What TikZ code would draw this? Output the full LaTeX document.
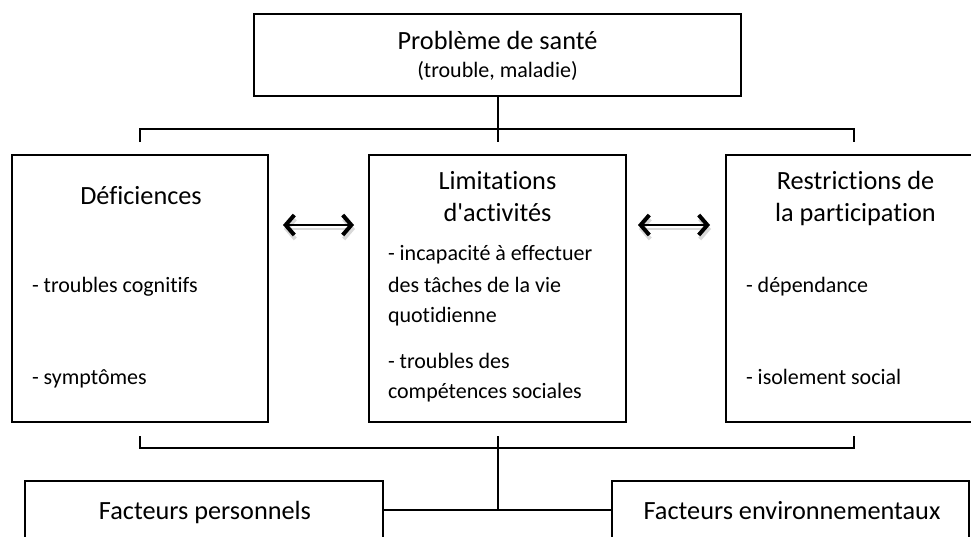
\documentclass[tikz,border=0pt]{standalone}
\usepackage{fontspec}
\setmainfont{Carlito}[Ligatures={TeXOff,CommonOff}]
\usetikzlibrary{arrows.meta,fit}

\tikzset{every picture/.style={line width=1.5pt}}
\tikzset{
  boite/.style={draw, inner sep=0pt},
  grand/.style={font=\fontsize{19.7}{23}\selectfont, inner sep=0.75pt},
  petit/.style={font=\fontsize{16.5}{22.5}\selectfont, inner sep=0.75pt},
  fleche/.style={{Straight Barb[length=6.5pt,width=15pt,line width=3pt]}-{Straight Barb[length=6.5pt,width=15pt,line width=3pt]}, line width=1.7pt},
}

\begin{document}
\begin{tikzpicture}[x=0.75pt,y=0.75pt,yscale=-1,xscale=1]
	\clip (0,0) rectangle (971,536); %picture is 971 x 536
	
	%Shape: Rectangles
	\node [boite, fit={(254,14) (741,96)}] (sante) {};
	\node [boite, fit={(12,155) (268,422)}] (defic) {};
	\node [boite, fit={(369,155) (626,422)}] (activ) {};
	\node [boite, fit={(726,155) (995,422)}] (partic) {};
	\node [boite, fit={(25,481) (383,539)}] (perso) {};
	\node [boite, fit={(612,481) (969,539)}] (envir) {};
	
	%Coordinates of the brackets
	\coordinate (hautG) at (140,142);
	\coordinate (hautM) at (497.5,142);
	\coordinate (hautD) at (854,142);
	\coordinate (basG) at (140,436);
	\coordinate (basM) at (497.5,436);
	\coordinate (basD) at (854,436);
	
	%Straight Lines
	\draw    (sante.south) -- (hautM) ;
	\draw    (hautG) -- ++(0,-13) -| (hautD) ;
	\draw    (basG) -- ++(0,12) -| (basD) ;
	\draw    (basM) -- (basM |- perso.east) ;
	\draw    (perso.east) -- (envir.west) ;
	
	%Double arrows
	\coordinate (f1g) at (283,225);
	\coordinate (f1d) at (354,225);
	\coordinate (f2g) at (638,225);
	\coordinate (f2d) at (710,225);
	\draw [fleche, draw=black!15] ([shift={(1,4)}]f1g) -- ([shift={(1,4)}]f1d) ;
	\draw [fleche, draw=black!15] ([shift={(1,4)}]f2g) -- ([shift={(1,4)}]f2d) ;
	\draw [fleche] (f1g) -- (f1d) ;
	\draw [fleche] (f2g) -- (f2d) ;
	
	% Text Node
	\node (t1) [grand, anchor=base] at (497.5,49) {Problème de santé};
	% Text Node
	\node (t2) [petit, anchor=base] at (497.5,77) {(trouble, maladie)};
	% Text Node
	\node (t3) [grand, anchor=base] at (141,204) {Déficiences};
	% Text Node
	\node (t4) [petit, anchor=base west] at (30,292) {- troubles cognitifs};
	% Text Node
	\node (t5) [petit, anchor=base west] at (30,384) {- symptômes};
	% Text Node
	\node (t6) [grand, anchor=base] at (497.5,189) {Limitations};
	% Text Node
	\node (t7) [grand, anchor=base] at (497.5,221) {d'activités};
	% Text Node
	\node (t8) [petit, anchor=base west] at (386,260) {- incapacité à effectuer};
	% Text Node
	\node (t9) [petit, anchor=base west] at (386,292) {des tâches de la vie};
	% Text Node
	\node (t10) [petit, anchor=base west] at (386,322) {quotidienne};
	% Text Node
	\node (t11) [petit, anchor=base west] at (386,368) {- troubles des};
	% Text Node
	\node (t12) [petit, anchor=base west] at (386,398) {compétences sociales};
	% Text Node
	\node (t13) [grand, anchor=base] at (855.5,189) {Restrictions de};
	% Text Node
	\node (t14) [grand, anchor=base] at (855.5,221) {la participation};
	% Text Node
	\node (t15) [petit, anchor=base west] at (744,292) {- dépendance};
	% Text Node
	\node (t16) [petit, anchor=base west] at (744,384) {- isolement social};
	% Text Node
	\node (t17) [grand, anchor=base] at (205,519) {Facteurs personnels};
	% Text Node
	\node (t18) [grand, anchor=base] at (792,519) {Facteurs environnementaux};
	
\end{tikzpicture}
\end{document}
